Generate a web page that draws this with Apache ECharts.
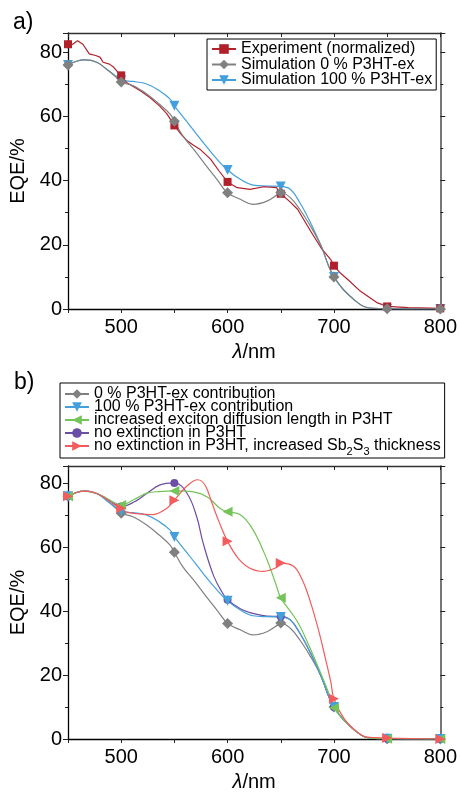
<!DOCTYPE html>
<html>
<head>
<meta charset="utf-8">
<script src="https://cdn.jsdelivr.net/npm/echarts@6/dist/echarts.min.js"></script>
<style>
html,body{margin:0;padding:0;background:#fff;}
#chart{width:460px;height:793px;}
</style>
</head>
<body>
<div id="chart"></div>
<script>
// a) experiment vs simulation
var expLam = [450,453,459,464,470,476,480,483,489,493,497,500,505,512,518,527,536,543,550,556,562,568,574,584,592,600,609,621,634,646,650,658,666,678,688,697,700,706,713,725,741,750,770,800];
var expVal = [82.5,82.2,83.6,82.5,79.5,79.0,78.5,76.9,76.3,75.3,73.7,72.8,70.6,69.2,68.0,65.9,63.3,60.8,57.2,54.6,52.4,51.0,49.8,46.7,43.0,39.6,37.8,37.3,38.1,37.8,35.9,33.6,31.0,24.3,19.0,15.4,13.5,11.2,9.2,5.5,1.9,0.8,0.4,0.2];

var sim0Lam = [450,458,466,477,486,494,500,511,524,536,546,550,558,568,580,590,600,612,624,637,648,650,659,668,678,688,695,700,709,719,728,738,750,800];
var sim0Val = [76,77.2,77.6,76.9,74.8,72.6,70.7,69.6,67.0,63.8,60.7,58.5,53.9,49.8,44.6,40.4,36.2,34.2,32.6,33.6,35.9,36.3,34.7,31.0,25.8,19.6,13.3,10.0,6.0,2.9,0.8,0.2,0.1,0];

var sim100Lam = [450,458,466,477,486,494,500,511,524,536,546,550,565,577,590,600,612,624,637,650,659,668,678,688,695,700,709,719,728,738,750,800];
var sim100Val = [76,77.2,77.6,76.9,74.8,72.8,71.3,70.9,70.1,68.0,65.4,63.3,57.0,51.9,46.7,43.3,40.4,38.6,38.3,38.2,37.3,33.1,26.9,19.6,13.5,10.0,6.0,2.9,0.8,0.2,0.1,0];

// b) extra simulations
var diffLam = [450,458,466,477,486,494,500,512,524,536,550,568,581,593,600,612,624,637,646,650,665,675,687,697,700,709,719,728,738,750,800];
var diffVal = [76,77.2,77.6,76.9,75.5,74.0,73.3,75.0,77.0,77.5,77.7,77.4,75.8,72.2,71.2,70.2,65.5,56.2,47.9,44.2,37.1,30.4,21.1,12.8,9.8,6.0,2.9,0.8,0.2,0.1,0];

var noExtLam = [450,458,466,477,486,494,500,512,524,536,550,562,571,577,587,595,600,612,621,637,650,659,668,678,688,695,700,709,719,728,738,750,800];
var noExtVal = [76,77.2,77.6,76.9,75.2,73.6,72.8,74.2,76.9,79.5,80.2,76.9,69.6,61.4,51.0,45.9,43.6,40.8,39.6,38.5,38.4,37.3,33.1,26.9,19.6,13.5,10.0,6.0,2.9,0.8,0.2,0.1,0];

var thickLam = [450,458,466,477,486,494,500,505,514,530,543,550,562,572,579,585,592,600,610,621,634,646,650,662,670,678,686,692,697,700,709,719,731,750,800];
var thickVal = [76,77.2,77.6,76.9,75.2,73.3,72.3,71.1,70.6,70.3,72.3,74.8,79.3,81.2,79.4,74.2,68.0,61.9,56.6,53.5,52.5,53.7,55.1,54.1,50.0,42.8,33.5,25.2,18.0,12.6,6.6,3.0,0.6,0.3,0];

var xTicks = [500,600,700,800];
var yTicks = [0,20,40,60,80];

var namesA = ['Experiment (normalized)','Simulation 0 % P3HT-ex','Simulation 100 % P3HT-ex'];
var namesB = ['0 % P3HT-ex contribution','100 % P3HT-ex contribution','increased exciton diffusion length in P3HT','no extinction in P3HT','no extinction in P3HT, increased Sb2S3 thickness'];

var TRI_DOWN = 'path://M0,0L10,0L5,9Z';
var TRI_LEFT = 'path://M9,0L0,5L9,10Z';
var TRI_RIGHT = 'path://M0,0L9,5L0,10Z';

function toData(lam, val){
  var out = [];
  for(var i=0;i<lam.length;i++){
    if(lam[i]%50===0){
      out.push([lam[i],val[i]]);
    }else{
      out.push({value:[lam[i],val[i]],symbol:'none'});
    }
  }
  return out;
}

function line(name, lam, val, color, symbol, size, g, smooth){
  return {
    name:name,
    type:'line',
    xAxisIndex:g*2,
    yAxisIndex:g*2,
    data:toData(lam,val),
    smooth:smooth,
    symbol:symbol,
    symbolSize:size,
    showAllSymbol:true,
    lineStyle:{color:color,width:1.2},
    itemStyle:{color:color},
    emphasis:{disabled:true},
    animation:false
  };
}

function xAx(g, top){
  return {
    type:'value', gridIndex:g, min:450, max:800, interval:50,
    position: top ? 'top' : 'bottom',
    axisLine:{show:true,onZero:false,lineStyle:{color: top ? '#333' : '#000',width:1.3}},
    axisTick:{show:true,inside:top,length:4,lineStyle:{color:'#222',width:1}},
    axisLabel:{show:!top,margin:8,fontSize:20,color:'#000',
      formatter:function(v){ return xTicks.indexOf(v)>=0 ? String(v) : ''; }},
    splitLine:{show:false},
    name: top ? '' : '{it|\u03bb}/nm',
    nameLocation:'middle', nameGap:33,
    nameTextStyle:{fontSize:20,color:'#000',rich:{it:{fontStyle:'italic',fontSize:20}}}
  };
}

function yAx(g, right, yMax){
  return {
    type:'value', gridIndex:g, min:0, max:yMax, interval:20,
    position: right ? 'right' : 'left',
    axisLine:{show:true,lineStyle:{color: right ? '#777' : '#000',width: right ? 2 : 1.3}},
    axisTick:{show:true,length:5,lineStyle:{color:'#222',width:1}},
    minorTick:{show:true,splitNumber:2,length:3,lineStyle:{color:'#222',width:1}},
    axisLabel:{show:!right,margin:6,fontSize:20,color:'#000',showMaxLabel:false,
      formatter:function(v){ return yTicks.indexOf(v)>=0 ? String(v) : ''; }},
    splitLine:{show:false},
    name: right ? '' : 'EQE/%',
    nameLocation:'middle', nameGap:39,
    nameTextStyle:{fontSize:20,color:'#000'}
  };
}

var legendBase = {
  orient:'vertical',
  backgroundColor:'#fff',
  borderColor:'#000',
  borderWidth:1,
  borderRadius:0,
  itemWidth:24,
  itemHeight:12,
  selectedMode:false
};

var chart = echarts.init(document.getElementById('chart'), null, {renderer:'canvas'});
var option = {
  animation:false,
  textStyle:{fontFamily:'"Liberation Sans", Arial, sans-serif'},
  title:[
    {text:'a)',left:8,top:6,textStyle:{fontSize:23,fontWeight:'normal',color:'#000'}},
    {text:'b)',left:9,top:366,textStyle:{fontSize:23,fontWeight:'normal',color:'#000'}}
  ],
  grid:[
    {left:68,right:19,top:33,height:276},
    {left:68,right:19,top:466,height:275}
  ],
  xAxis:[xAx(0,false),xAx(0,true),xAx(1,false),xAx(1,true)],
  yAxis:[yAx(0,false,86),yAx(0,true,86),yAx(1,false,85.5),yAx(1,true,85.5)],
  legend:[
    Object.assign({}, legendBase, {
      data:namesA, left:207, top:39, padding:[2,4,2,4], itemGap:-0.5,
      textStyle:{fontSize:16,color:'#000',lineHeight:15}
    }),
    Object.assign({}, legendBase, {
      data:namesB, left:60, top:383, padding:[3,4,1,4], itemGap:-3,
      textStyle:{fontSize:16,color:'#000',lineHeight:12,
        rich:{sub:{fontSize:11,lineHeight:11,verticalAlign:'top',padding:[6,0,0,0]}}},
      formatter:function(n){ return n.replace('Sb2S3','Sb{sub|2}S{sub|3}'); }
    })
  ],
  series:[
    line(namesA[2], sim100Lam, sim100Val, '#44a0dd', TRI_DOWN, 10, 0, 0.4),
    line(namesA[0], expLam, expVal, '#b2202b', 'rect', 8, 0, false),
    line(namesA[1], sim0Lam, sim0Val, '#808080', 'diamond', 11, 0, 0.4),

    line(namesB[0], sim0Lam, sim0Val, '#808080', 'diamond', 11, 1, 0.4),
    line(namesB[3], noExtLam, noExtVal, '#6b4ea6', 'circle', 8, 1, 0.4),
    line(namesB[1], sim100Lam, sim100Val, '#44a0dd', TRI_DOWN, 10, 1, 0.4),
    line(namesB[2], diffLam, diffVal, '#74c45a', TRI_LEFT, 10, 1, 0.4),
    line(namesB[4], thickLam, thickVal, '#f25c5c', TRI_RIGHT, 10, 1, 0.4)
  ]
};
chart.setOption(option);
</script>
</body>
</html>
